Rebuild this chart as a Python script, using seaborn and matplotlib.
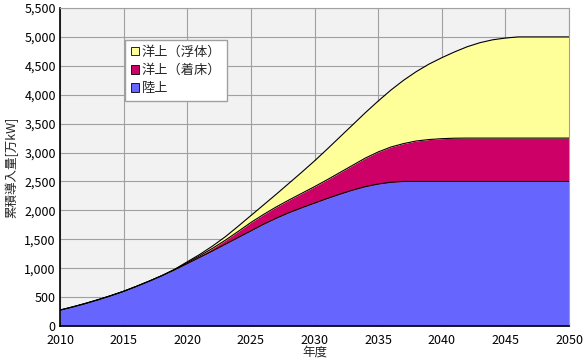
import numpy as np
import pandas as pd
import matplotlib
matplotlib.use("Agg")
import matplotlib.pyplot as plt
from matplotlib.ticker import FuncFormatter
from matplotlib.patches import Patch
import seaborn as sns

# data (万kW)
years = list(range(2010, 2051))
land = [275, 330, 390, 455, 525, 600, 685, 775, 870, 970,
        1080, 1190, 1300, 1415, 1530, 1645, 1760, 1865, 1960, 2045,
        2125, 2205, 2280, 2350, 2410, 2455, 2485, 2500] + [2500] * 13
offshore_fixed = [0] * 9 + [5, 15, 25, 45, 70, 105, 145, 170, 195, 220, 250,
                            285, 325, 375, 430, 495, 555, 610, 655, 700, 725,
                            740, 748] + [750] * 9
offshore_float = [0] * 9 + [5, 15, 25, 40, 60, 90, 120, 165, 220, 290, 365,
                            445, 530, 615, 700, 785, 880, 985, 1095, 1200, 1305,
                            1400, 1492, 1580, 1650, 1700, 1730] + [1750] * 5

series_names = ["陸上", "洋上（着床）", "洋上（浮体）"]
series_colors = ["#6666ff", "#cc0066", "#ffff99"]

df = pd.DataFrame({"year": years, series_names[0]: land,
                   series_names[1]: offshore_fixed, series_names[2]: offshore_float})

sns.set_theme(style="whitegrid")
plt.rcParams['font.family'] = ['Noto Sans CJK JP', 'DejaVu Sans']

fig = plt.figure(figsize=(5.86, 3.63), dpi=100)
ax = fig.add_axes([60 / 586, 37 / 363, 509 / 586, 318 / 363])
ax.set_facecolor("#f2f2f2")

bottom = np.zeros(len(years))
for name, color in zip(series_names, series_colors):
    top = bottom + df[name].to_numpy()
    ax.fill_between(df["year"], bottom, top, color=color, linewidth=0, zorder=2)
    sns.lineplot(x=df["year"], y=top, color="black", linewidth=0.8, ax=ax, zorder=3)
    bottom = top

ax.set_xlim(2010, 2050)
ax.set_ylim(0, 5500)
ax.set_xticks(range(2010, 2051, 5))
ax.set_yticks(range(0, 5501, 500))
ax.yaxis.set_major_formatter(FuncFormatter(lambda v, p: f"{int(v):,}"))
ax.grid(True, color="#a0a0a0", linewidth=0.8)
ax.set_axisbelow(True)
ax.tick_params(axis="both", labelsize=9, colors="black", pad=3)
ax.tick_params(axis="x", direction="in", length=3, width=0.8, bottom=True, pad=6)
ax.tick_params(axis="y", length=0)

for side in ["left", "bottom"]:
    ax.spines[side].set_color("black")
    ax.spines[side].set_linewidth(1.2)
for side in ["top", "right"]:
    ax.spines[side].set_color("#a0a0a0")
    ax.spines[side].set_linewidth(0.8)

ax.set_xlabel("年度", fontsize=9, labelpad=-1)
ax.set_ylabel("累積導入量[万kW]", fontsize=9, labelpad=4)

handles = [Patch(facecolor=c, edgecolor="black", linewidth=0.6)
           for c in series_colors[::-1]]
leg = ax.legend(handles, series_names[::-1], loc="upper left",
                bbox_to_anchor=(0.128, 0.9), fontsize=9.5, frameon=True,
                fancybox=False, handlelength=0.6, handleheight=0.6,
                handletextpad=0.2, borderpad=0.45, labelspacing=0.4,
                borderaxespad=0)
leg.get_frame().set_edgecolor("#a0a0a0")
leg.get_frame().set_facecolor("white")
leg.get_frame().set_alpha(1)

fig.savefig("out.png", dpi=100)
